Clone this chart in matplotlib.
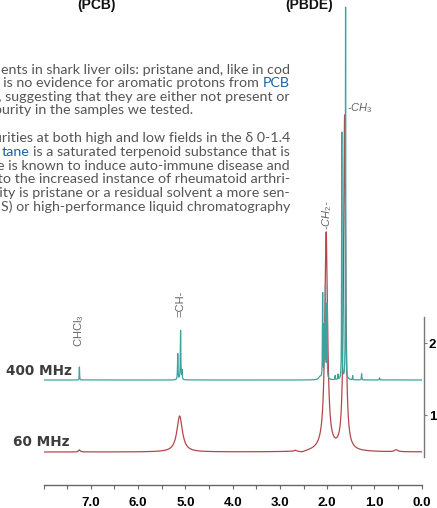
import numpy as np
import matplotlib
matplotlib.use("Agg")
import matplotlib.pyplot as plt
from matplotlib import font_manager as fm

# ---------------- data ----------------
ppm_range = (8.0, 0.0)
x_major = [7.0, 6.0, 5.0, 4.0, 3.0, 2.0, 1.0, 0.0]
x_major_labels = ["7.0", "6.0", "5.0", "4.0", "3.0", "2.0", "1.0", "0.0"]
x_minor = [7.5, 6.5, 5.5, 4.5, 3.5, 2.5, 1.5, 0.5, 8.0]
y_ticks = [1, 2]
y_tick_labels = ["1", "2"]

# 400 MHz spectrum (teal): baseline and peak list (shift ppm, height, half width ppm)
baseline_400 = 1.486
shift_400 = [7.24, 5.16, 5.10, 5.07, 2.15, 2.095, 2.06, 2.035, 2.005, 1.83, 1.77, 1.69, 1.61, 1.46, 1.27, 0.89]
height_400 = [0.18, 0.36, 0.68, 0.12, 0.04, 1.18, 0.70, 1.25, 1.02, 0.055, 0.07, 3.43, 5.17, 0.055, 0.085, 0.03]
hwhm_400 = [0.004, 0.006, 0.006, 0.005, 0.03, 0.005, 0.005, 0.005, 0.005, 0.004, 0.004, 0.004, 0.004, 0.004, 0.005, 0.005]

# 60 MHz spectrum (red)
baseline_60 = 0.486
shift_60 = [7.24, 5.12, 2.67, 2.53, 2.05, 2.02, 1.63, 0.54]
height_60 = [0.03, 0.50, 0.015, -0.02, 0.07, 2.97, 4.65, 0.028]
hwhm_60 = [0.02, 0.07, 0.03, 0.09, 0.15, 0.035, 0.026, 0.04]

spectrum_names = ["400 MHz", "60 MHz"]

# ---------------- fonts ----------------
names = {f.name for f in fm.fontManager.ttflist}
narrow = "Liberation Sans Narrow" if "Liberation Sans Narrow" in names else "Liberation Sans"
plt.rcParams["mathtext.fontset"] = "custom"
plt.rcParams["mathtext.rm"] = narrow
plt.rcParams["mathtext.it"] = narrow + ":italic"

W, H = 437, 508
fig = plt.figure(figsize=(W / 100, H / 100), dpi=100)


def fx(px):
    return px / W


def fy(py):
    return 1 - py / H


# axes: ppm 8 at x=43.5px, 0 at x=421.7px; bottom spine at y=485px
left_px, right_px, bottom_px = 43.5, 421.7, 485
ax = fig.add_axes([fx(left_px), fy(bottom_px), (right_px - left_px) / W, bottom_px / H])
ax.patch.set_alpha(0)
ax.set_xlim(*ppm_range)
ax.set_ylim(2 - (485 - 343) / 72, 2 + 343 / 72)

teal = "#3aa39e"
red = "#b5474b"

x = np.linspace(0.0, 8.0, 16001)


def spectrum(base, shifts, heights, widths):
    y = np.full_like(x, base)
    for s, h, w in zip(shifts, heights, widths):
        y += h / (1 + ((x - s) / w) ** 2)
    return y


ax.plot(x, spectrum(baseline_60, shift_60, height_60, hwhm_60), color=red, lw=0.9, zorder=2)
ax.plot(x, spectrum(baseline_400, shift_400, height_400, hwhm_400), color=teal, lw=0.9, zorder=3)

# spines and ticks
for s in ["left", "top"]:
    ax.spines[s].set_visible(False)
ax.spines["bottom"].set_color("#666666")
ax.spines["bottom"].set_linewidth(1.0)
ax.spines["right"].set_color("#777777")
ax.spines["right"].set_linewidth(1.0)
ax.spines["right"].set_position(("outward", 1.7))
ax.spines["right"].set_bounds(0.417, 2.36)

ax.set_xticks(x_major)
ax.set_xticklabels(x_major_labels)
ax.set_xticks(x_minor, minor=True)
ax.tick_params(axis="x", which="both", direction="out", length=2.8, width=0.8,
               color="#666666", pad=5.5)
for lab in ax.get_xticklabels():
    lab.set_fontfamily("Liberation Sans")
    lab.set_fontweight("bold")
    lab.set_fontsize(9.5)

ax.yaxis.tick_right()
ax.set_yticks(y_ticks)
ax.set_yticklabels(y_tick_labels)
ax.tick_params(axis="y", which="both", direction="out", length=2.5, width=0.8,
               color="#777777", pad=1)
ax.tick_params(axis="y", left=False, labelleft=False)
for lab in ax.get_yticklabels():
    lab.set_fontfamily("Liberation Sans")
    lab.set_fontweight("bold")
    lab.set_fontsize(9.5)

# spectrum labels
fig.text(fx(6), fy(371), spectrum_names[0], fontfamily="DejaVu Sans", fontweight="bold",
         fontsize=9.8, color="#3d3d3d", ha="left", va="center")
fig.text(fx(13), fy(442), spectrum_names[1], fontfamily="DejaVu Sans", fontweight="bold",
         fontsize=9.8, color="#3d3d3d", ha="left", va="center")

# peak labels
lab_kw = dict(fontfamily=narrow, fontsize=8, color="#666666")
ax.text(7.25, 2.167, r"CHCl$_3$", rotation=90, ha="center", va="center", **lab_kw)
ax.text(5.10, 2.54, "=CH-", rotation=90, ha="center", va="center", **lab_kw)
ax.text(2.01, 3.78, r"-CH$_2$-", rotation=90, ha="center", va="center", style="italic", **lab_kw)
ax.text(1.576, 5.26, r"-CH$_3$", ha="left", va="center", style="italic", **lab_kw)

# headings (cut at top, as in the source page)
fig.text(fx(97), fy(8.5), "(PCB)", fontfamily="Liberation Sans", fontweight="bold", fontsize=10,
         ha="center", va="baseline", color="#111111")
fig.text(fx(309), fy(8.5), "(PBDE)", fontfamily="Liberation Sans", fontweight="bold", fontsize=10,
         ha="center", va="baseline", color="#111111")

# paragraph text
gray = "#555555"
blue = "#1f5fa8"
para_font = ["Lato", "DejaVu Sans"]
renderer = fig.canvas.get_renderer()


def text_width(s, size):
    t = fig.text(0, 0, s, fontfamily=para_font, fontsize=size)
    w = t.get_window_extent(renderer).width
    t.remove()
    return w


ref_line = "ents in shark liver oils: pristane and, like in cod"
size = 9.0
size = size * 290 / text_width(ref_line, size)
space_w = text_width("a a", size) - text_width("aa", size)


def draw_line(segments, right, baseline):
    xr = right
    for s, c in reversed(segments):
        fig.text(fx(xr), fy(baseline), s, fontfamily=para_font, fontsize=size, color=c,
                 ha="right", va="baseline")
        xr -= text_width(s, size) + space_w


block1 = [
    ([(ref_line, gray)], 290, 74),
    ([("e is no evidence for aromatic protons from", gray), ("PCB", blue)], 290, 87.3),
    ([("r, suggesting that they are either not present or", gray)], 290, 100.6),
    ([("purity in the samples we tested.", gray)], 193, 113.9),
]
block2 = [
    ([("purities at both high and low fields in the δ 0-1.4", gray)], 290, 142),
    ([("tane", blue), ("is a saturated terpenoid substance that is", gray)], 290, 155.8),
    ([("e is known to induce auto-immune disease and", gray)], 290, 169.6),
    ([("d to the increased instance of rheumatoid arthri-", gray)], 290, 183.4),
    ([("rity is pristane or a residual solvent a more sen-", gray)], 290, 197.2),
    ([("S) or high-performance liquid chromatography", gray)], 290, 211),
]
for segs, r, b in block1 + block2:
    draw_line(segs, r, b)

fig.savefig("out.png", dpi=100)
